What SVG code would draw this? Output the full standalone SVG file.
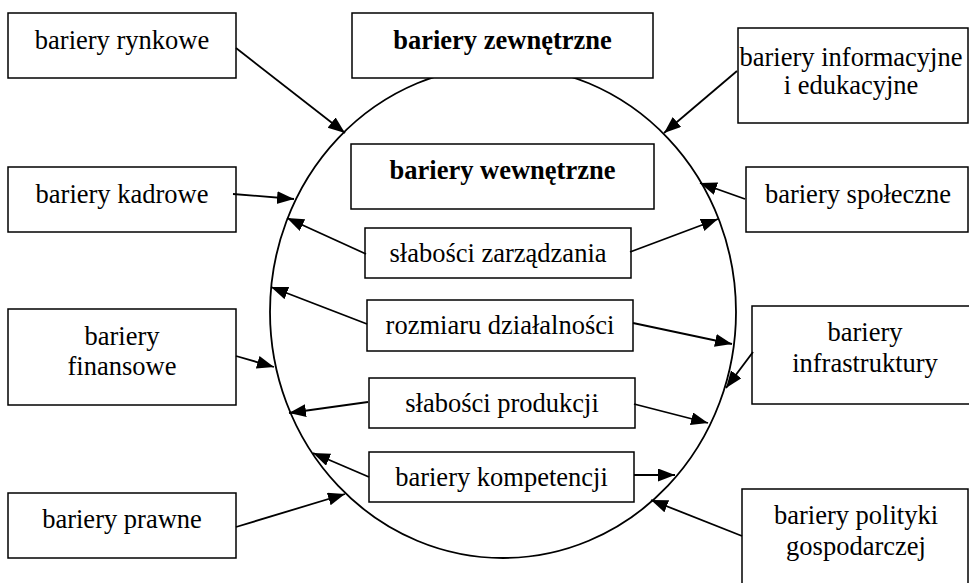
<svg xmlns="http://www.w3.org/2000/svg" width="969" height="583" viewBox="0 0 969 583">
<defs>
<marker id="ah" markerUnits="userSpaceOnUse" markerWidth="19" markerHeight="15" refX="17" refY="6.5" orient="auto">
<path d="M0,0 L17,6.5 L0,13 z" fill="#000"/>
</marker>
<style>
.box{fill:#fff;stroke:#000;stroke-width:1.5}
.t{font-size:26.5px;text-anchor:middle;fill:#000}
.b{font-weight:bold}
.c{fill:none;stroke:#000;stroke-width:1.8}
.e line{stroke:#000;stroke-width:1.8;marker-end:url(#ah)}
</style>
</defs>
<rect width="969" height="583" fill="#fff"/>
<ellipse class="c" cx="503" cy="312" rx="233" ry="246"/>
<g font-family="Liberation Serif, Times New Roman, serif">
<g id="zewnetrzne"><rect class="box" x="352" y="13" width="301" height="65"/><text class="t b" x="502.5" y="49">bariery zewnętrzne</text></g>
<g id="wewnetrzne"><rect class="box" x="351" y="144" width="303" height="65"/><text class="t b" x="502.5" y="179">bariery wewnętrzne</text></g>
<g id="rynkowe"><rect class="box" x="8" y="13" width="228" height="65"/><text class="t" x="122" y="49">bariery rynkowe</text></g>
<g id="kadrowe"><rect class="box" x="8" y="167" width="228" height="65"/><text class="t" x="122" y="203">bariery kadrowe</text></g>
<g id="finansowe"><rect class="box" x="8" y="309" width="228" height="96"/><text class="t" x="122" y="345">bariery</text><text class="t" x="122" y="375">finansowe</text></g>
<g id="prawne"><rect class="box" x="8" y="493" width="228" height="65"/><text class="t" x="122" y="528">bariery prawne</text></g>
<g id="informacyjne"><rect class="box" x="738" y="28" width="230" height="95"/><text class="t" x="851" y="66">bariery informacyjne</text><text class="t" x="851" y="94">i edukacyjne</text></g>
<g id="spoleczne"><rect class="box" x="746" y="167" width="222" height="65"/><text class="t" x="858" y="203">bariery społeczne</text></g>
<g id="infrastruktury"><rect class="box" x="752" y="306" width="230" height="98"/><text class="t" x="865" y="341">bariery</text><text class="t" x="865" y="372">infrastruktury</text></g>
<g id="polityki"><rect class="box" x="742" y="489" width="226" height="110"/><text class="t" x="856" y="524">bariery polityki</text><text class="t" x="856" y="555">gospodarczej</text></g>
<g id="zarzadzania"><rect class="box" x="365" y="228" width="266" height="50"/><text class="t" x="498" y="262">słabości zarządzania</text></g>
<g id="rozmiaru"><rect class="box" x="367" y="300" width="266" height="51"/><text class="t" x="500" y="334">rozmiaru działalności</text></g>
<g id="produkcji"><rect class="box" x="369" y="378" width="266" height="50"/><text class="t" x="502" y="412">słabości produkcji</text></g>
<g id="kompetencji"><rect class="box" x="369" y="452" width="265" height="50"/><text class="t" x="501.5" y="486">bariery kompetencji</text></g>
</g>
<g id="connectors" class="e">
<line x1="236" y1="48" x2="345" y2="133"/>
<line x1="233" y1="194" x2="294" y2="199"/>
<line x1="737" y1="71" x2="664" y2="133"/>
<line x1="745" y1="199" x2="700" y2="183"/>
<line x1="366" y1="254" x2="287" y2="218"/>
<line x1="630" y1="252" x2="718" y2="219"/>
<line x1="367" y1="324" x2="271" y2="287"/>
<line x1="633" y1="323" x2="732" y2="344"/>
<line x1="236" y1="356" x2="274" y2="367"/>
<line x1="753" y1="352" x2="726" y2="388"/>
<line x1="368" y1="402" x2="289" y2="413"/>
<line x1="634" y1="404" x2="708" y2="423"/>
<line x1="369" y1="477" x2="313" y2="453"/>
<line x1="634" y1="475" x2="675" y2="475"/>
<line x1="236" y1="527" x2="345" y2="494"/>
<line x1="742" y1="536" x2="651" y2="500"/>
</g>
</svg>
